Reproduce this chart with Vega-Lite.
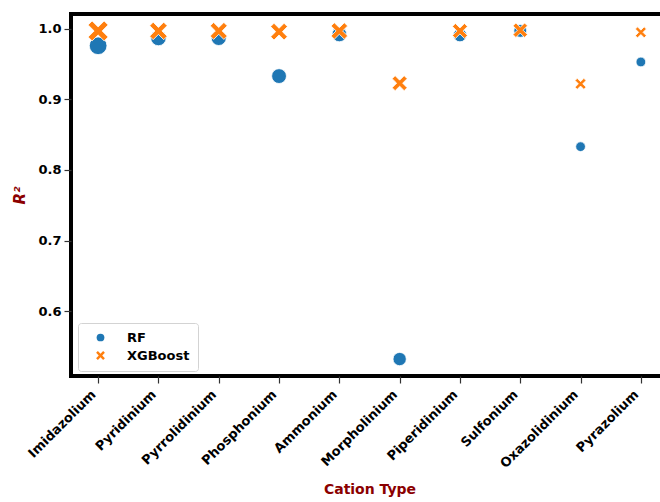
{
  "$schema": "https://vega.github.io/schema/vega-lite/v6.json",
  "autosize": "none",
  "padding": {"left": 71, "top": 14, "right": 0, "bottom": 126},
  "width": 597,
  "height": 362,
  "background": "white",
  "config": {
    "font": "DejaVu Sans",
    "view": {"stroke": "black", "strokeWidth": 4},
    "axis": {
      "grid": false,
      "domain": false,
      "tickColor": "#333333",
      "tickSize": 7,
      "tickWidth": 1.2,
      "labelFont": "DejaVu Sans",
      "labelFontWeight": "bold",
      "labelFontSize": 13,
      "labelColor": "black",
      "titleFont": "DejaVu Sans",
      "titleFontWeight": "bold",
      "titleFontSize": 14,
      "titleColor": "#8b0000"
    }
  },
  "data": {
    "values": [
      {"cation": "Imidazolium", "model": "RF", "r2": 0.976},
      {"cation": "Pyridinium", "model": "RF", "r2": 0.987},
      {"cation": "Pyrrolidinium", "model": "RF", "r2": 0.987},
      {"cation": "Phosphonium", "model": "RF", "r2": 0.933},
      {"cation": "Ammonium", "model": "RF", "r2": 0.992},
      {"cation": "Morpholinium", "model": "RF", "r2": 0.532},
      {"cation": "Piperidinium", "model": "RF", "r2": 0.991},
      {"cation": "Sulfonium", "model": "RF", "r2": 0.997},
      {"cation": "Oxazolidinium", "model": "RF", "r2": 0.833},
      {"cation": "Pyrazolium", "model": "RF", "r2": 0.953},
      {"cation": "Imidazolium", "model": "XGBoost", "r2": 0.997},
      {"cation": "Pyridinium", "model": "XGBoost", "r2": 0.997},
      {"cation": "Pyrrolidinium", "model": "XGBoost", "r2": 0.997},
      {"cation": "Phosphonium", "model": "XGBoost", "r2": 0.996},
      {"cation": "Ammonium", "model": "XGBoost", "r2": 0.997},
      {"cation": "Morpholinium", "model": "XGBoost", "r2": 0.923},
      {"cation": "Piperidinium", "model": "XGBoost", "r2": 0.997},
      {"cation": "Sulfonium", "model": "XGBoost", "r2": 0.998},
      {"cation": "Oxazolidinium", "model": "XGBoost", "r2": 0.922},
      {"cation": "Pyrazolium", "model": "XGBoost", "r2": 0.995}
    ]
  },
  "mark": {"type": "point", "filled": true, "opacity": 1, "stroke": "white", "strokeWidth": 0.8},
  "encoding": {
    "x": {
      "field": "cation",
      "type": "nominal",
      "sort": null,
      "title": "Cation Type",
      "scale": {"type": "point", "padding": 0.45},
      "axis": {"labelAngle": -45, "labelAlign": "right", "labelBaseline": "bottom", "labelPadding": 14, "titlePadding": 12}
    },
    "y": {
      "field": "r2",
      "type": "quantitative",
      "title": "R²",
      "scale": {"domain": [0.508, 1.021], "nice": false, "zero": false},
      "axis": {"values": [0.6, 0.7, 0.8, 0.9, 1.0], "format": ".1f", "labelPadding": 3, "titleFontStyle": "italic", "titleFontSize": 15, "titlePadding": 10}
    },
    "color": {
      "field": "model",
      "type": "nominal",
      "scale": {"domain": ["RF", "XGBoost"], "range": ["#1f77b4", "#ff7f0e"]},
      "legend": {
        "title": null,
        "orient": "none",
        "legendX": 7,
        "legendY": 309,
        "padding": 8,
        "symbolOffset": 8,
        "symbolSize": 60,
        "symbolStrokeWidth": 0,
        "labelOffset": 20,
        "labelFontSize": 13,
        "labelFontWeight": "bold",
        "labelColor": "black",
        "rowPadding": 4,
        "fillColor": "rgba(255,255,255,0.8)",
        "strokeColor": "#d3d3d3",
        "cornerRadius": 3
      }
    },
    "shape": {
      "field": "model",
      "type": "nominal",
      "scale": {
        "domain": ["RF", "XGBoost"],
        "range": ["circle", "M -0.68 -1.13 L 0 -0.45 L 0.68 -1.13 L 1.13 -0.68 L 0.45 0 L 1.13 0.68 L 0.68 1.13 L 0 0.45 L -0.68 1.13 L -1.13 0.68 L -0.45 0 L -1.13 -0.68 Z"]
      }
    },
    "size": {
      "field": "cation",
      "type": "nominal",
      "sort": null,
      "legend": null,
      "scale": {
        "type": "ordinal",
        "domain": ["Imidazolium", "Pyridinium", "Pyrrolidinium", "Phosphonium", "Ammonium", "Morpholinium", "Piperidinium", "Sulfonium", "Oxazolidinium", "Pyrazolium"],
        "range": [314, 240, 227, 220, 214, 177, 177, 165, 95, 95]
      }
    }
  }
}
